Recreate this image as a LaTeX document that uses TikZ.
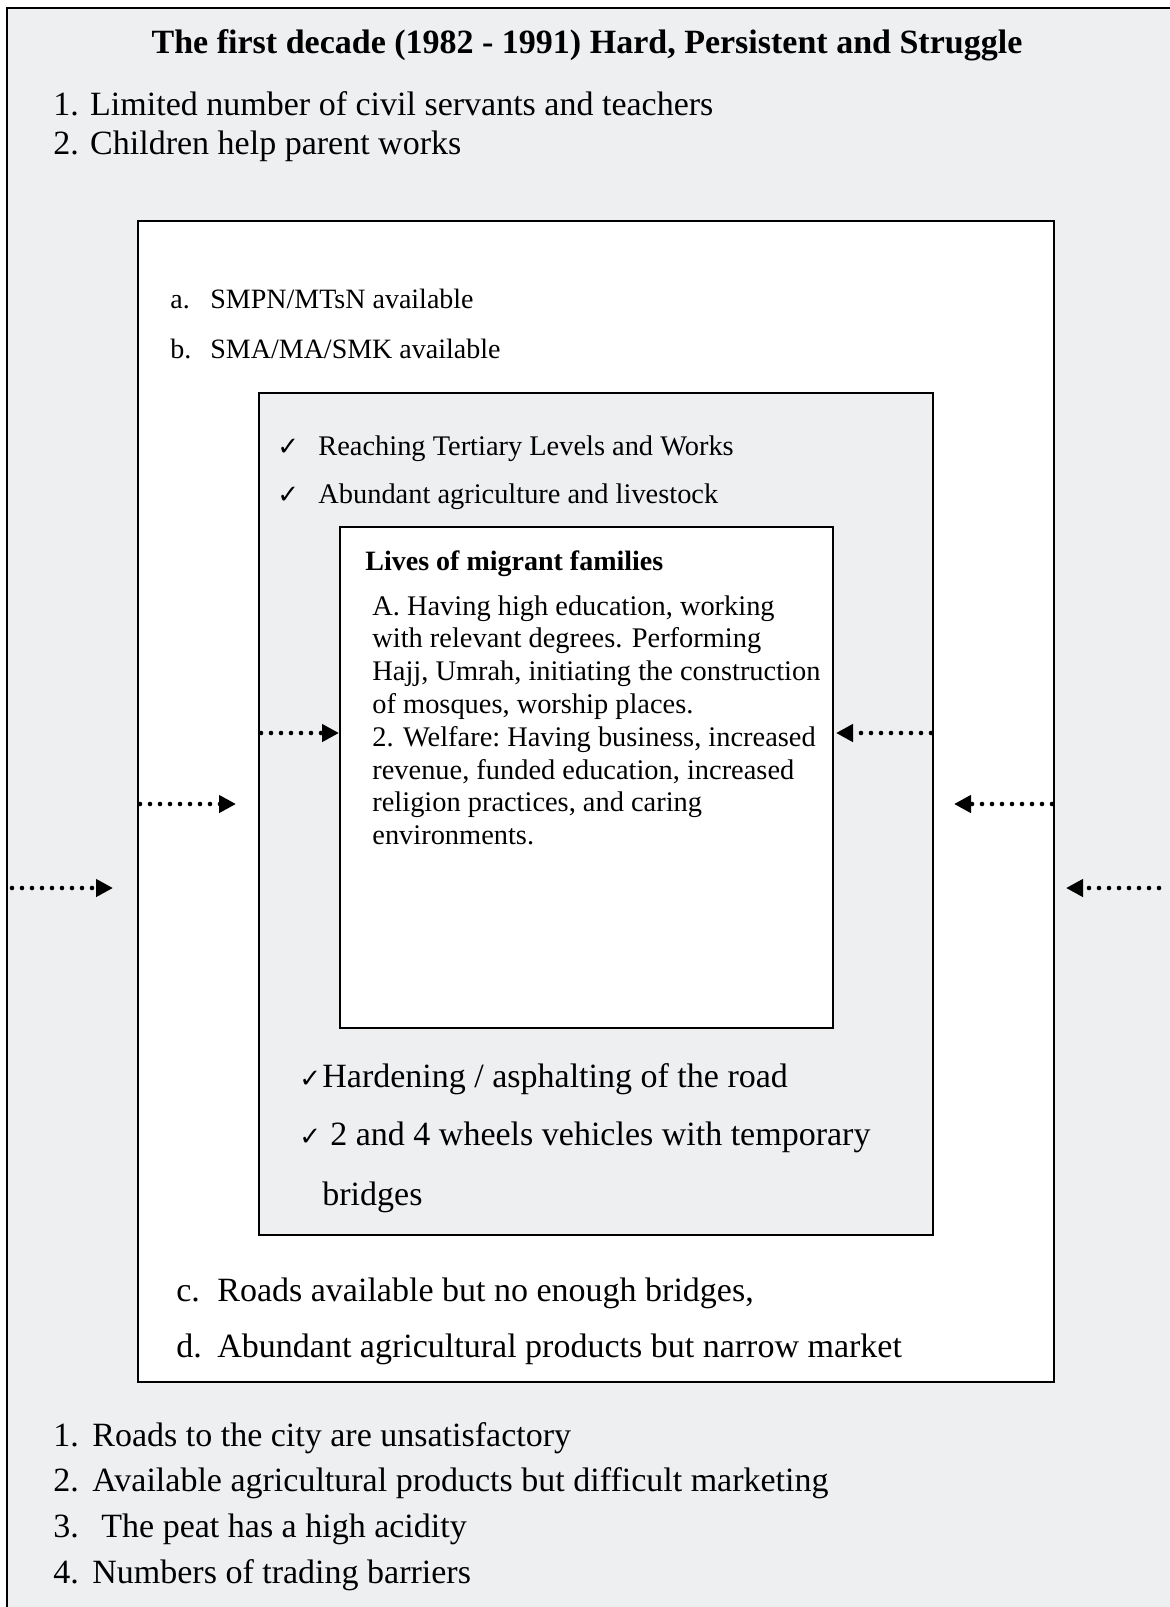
\documentclass[tikz,border=0pt]{standalone}
\usepackage{fontspec}
\setmainfont{Liberation Serif}
\newfontfamily\checkfont{DejaVu Sans}
\usetikzlibrary{arrows.meta}
\definecolor{paneGray}{HTML}{EEEFF1}
\newcommand{\tick}[1]{{\checkfont\fontsize{#1}{#1}\selectfont ✓}}

\begin{document}
\begin{tikzpicture}[x=0.5pt,y=-0.5pt,
    pane/.style={draw=black,line width=1pt},
    txt/.style={anchor=base west,inner sep=0pt},
    head/.style={font=\fontsize{17}{20}\selectfont\bfseries},
    big/.style={font=\fontsize{17}{20}\selectfont},
    road/.style={font=\fontsize{17}{20}\selectfont},
    small/.style={font=\fontsize{14}{17}\selectfont},
    para/.style={font=\fontsize{14.2}{16.3}\selectfont},
    dotarrow/.style={line width=2.3pt,line cap=round,dash pattern=on 0pt off 5pt,
        -{Triangle[length=8.5pt,width=8.5pt]}}]
\useasboundingbox (0,0) rectangle (1169,1607);

% nested panes
\draw[pane,fill=paneGray] (7,8) rectangle (1190,1630);
\draw[pane,fill=white] (138,221) rectangle (1054,1382);
\draw[pane,fill=paneGray] (259,393) rectangle (933,1235);
\draw[pane,fill=white] (340,527) rectangle (833,1028);

% outer pane
\node[head,anchor=base] (title) at (587,53) {The first decade (1982 - 1991) Hard, Persistent and Struggle};
\node[txt,big] (top1) at (53,115) {1. Limited number of civil servants and teachers};
\node[txt,big] (top2) at (53,154) {2. Children help parent works};

\node[txt,big] (lab1) at (53,1446) {1.};
\node[txt,big] (bot1) at (92,1446) {Roads to the city are unsatisfactory};
\node[txt,big] (lab2) at (53,1491) {2.};
\node[txt,big] (bot2) at (92,1491) {Available agricultural products but difficult marketing};
\node[txt,big] (lab3) at (53,1537) {3.};
\node[txt,big] (bot3) at (101,1537) {The peat has a high acidity};
\node[txt,big] (lab4) at (53,1583) {4.};
\node[txt,big] (bot4) at (92,1583) {Numbers of trading barriers};

% second pane
\node[txt,small] (laba) at (170,308) {a.};
\node[txt,small] (smpn) at (210,308) {SMPN/MTsN available};
\node[txt,small] (labb) at (170,358) {b.};
\node[txt,small] (sma) at (210,358) {SMA/MA/SMK available};

\node[txt,big] (labc) at (176,1301) {c.};
\node[txt,big] (roads) at (217,1301) {Roads available but no enough bridges,};
\node[txt,big] (labd) at (176,1357) {d.};
\node[txt,big] (agri) at (217,1357) {Abundant agricultural products but narrow market};

% third pane
\node[txt] (ck1) at (277,455) {\tick{13}};
\node[txt,small,font=\fontsize{14.2}{17}\selectfont] (tertiary) at (318,455) {Reaching Tertiary Levels and Works};
\node[txt] (ck2) at (277,503) {\tick{13}};
\node[txt,small,font=\fontsize{14.2}{17}\selectfont] (livestock) at (318,503) {Abundant agriculture and livestock};

\node[txt] (ck3) at (299,1087) {\tick{13}};
\node[txt,road] (asphalt) at (322,1087) {Hardening / asphalting of the road};
\node[txt] (ck4) at (299,1145) {\tick{13}};
\node[txt,road] (wheels) at (330,1145) {2 and 4 wheels vehicles with temporary};
\node[txt,road] (bridges) at (322,1205) {bridges};

% inner pane
\node[txt,font=\fontsize{14}{17}\selectfont\bfseries] (lives) at (365,570) {Lives of migrant families};
\foreach \ln [count=\i] in {{A. Having high education, working},
    {with relevant degrees. Performing},
    {Hajj, Umrah, initiating the construction},
    {of mosques, worship places.},
    {2. Welfare:\ Having business, increased},
    {revenue, funded education, increased},
    {religion practices, and caring},
    {environments.}}
  \node[txt,para] (fam\i) at (372,615+32.8*\i-32.8) {\ln};

% dotted arrows, pane to pane
\coordinate (outerL) at (12,888);   \coordinate (outerLtip) at (113,888);
\coordinate (outerR) at (1159,888); \coordinate (outerRtip) at (1066,888);
\coordinate (midL) at (140,804);    \coordinate (midLtip) at (236,804);
\coordinate (midR) at (1052,804);   \coordinate (midRtip) at (954,804);
\coordinate (innL) at (261,733);    \coordinate (innLtip) at (339,733);
\coordinate (innR) at (931,733);    \coordinate (innRtip) at (836,733);

\draw[dotarrow] (outerL) -- (outerLtip);
\draw[dotarrow] (outerR) -- (outerRtip);
\draw[dotarrow] (midL) -- (midLtip);
\draw[dotarrow] (midR) -- (midRtip);
\draw[dotarrow] (innL) -- (innLtip);
\draw[dotarrow] (innR) -- (innRtip);
\end{tikzpicture}
\end{document}
